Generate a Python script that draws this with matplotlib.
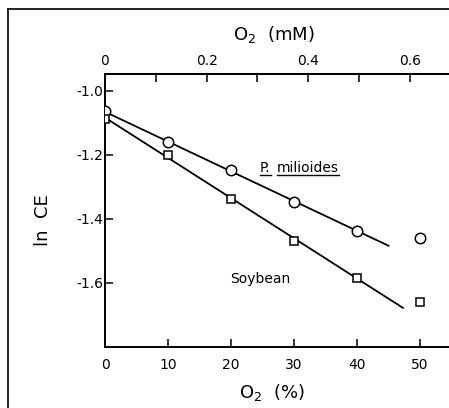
import matplotlib
matplotlib.use("Agg")
import matplotlib.pyplot as plt
from matplotlib.lines import Line2D

# O2 concentration (%), and ln CE
o2_pct = [0, 10, 20, 30, 40, 50]
milioides_lnce = [-1.063, -1.159, -1.247, -1.346, -1.439, -1.460]
soybean_lnce = [-1.088, -1.202, -1.337, -1.468, -1.585, -1.659]

# fitted lines (end points)
milioides_fit_x = [0, 45.0]
milioides_fit_y = [-1.066, -1.484]
soybean_fit_x = [0, 47.3]
soybean_fit_y = [-1.084, -1.678]

x_ticks = [0, 10, 20, 30, 40, 50]
y_ticks = [-1.0, -1.2, -1.4, -1.6]
y_ticklabels = ["-1.0", "-1.2", "-1.4", "-1.6"]
mm_ticks = [0, 0.1, 0.2, 0.3, 0.4, 0.5, 0.6]
mm_ticklabels = ["0", "", "0.2", "", "0.4", "", "0.6"]
mm_per_pct = 0.0124

plt.rcParams["font.family"] = "DejaVu Sans"

fig = plt.figure(figsize=(4.49, 4.08), dpi=100)
ax = fig.add_axes([105 / 449, 1 - 347 / 408, 1 - 105 / 449, (347 - 74) / 408])

ax.plot(milioides_fit_x, milioides_fit_y, color="k", lw=1.3, zorder=2)
ax.plot(soybean_fit_x, soybean_fit_y, color="k", lw=1.3, zorder=2)
ax.plot(o2_pct, milioides_lnce, ls="none", marker="o", ms=7.5,
        mfc="white", mec="k", mew=1.1, zorder=3)
ax.plot(o2_pct, soybean_lnce, ls="none", marker="s", ms=5.5,
        mfc="white", mec="k", mew=1.1, zorder=3)

ax.set_xlim(0, 54.6)
ax.set_ylim(-1.8, -0.948)
ax.set_xticks(x_ticks)
ax.set_xticklabels([str(v) for v in x_ticks])
ax.set_yticks(y_ticks)
ax.set_yticklabels(y_ticklabels)
ax.tick_params(axis="x", direction="in", length=6, width=1.1, labelsize=10, pad=8)
ax.tick_params(axis="y", direction="in", length=6, width=1.1, labelsize=10, pad=1.5)
ax.spines["right"].set_visible(False)
for s in ["left", "bottom", "top"]:
    ax.spines[s].set_linewidth(1.4)

secax = ax.secondary_xaxis("top", functions=(lambda p: p * mm_per_pct,
                                             lambda m: m / mm_per_pct))
secax.set_xticks(mm_ticks)
secax.set_xticklabels(mm_ticklabels)
secax.tick_params(direction="in", length=6, width=1.1, labelsize=10, pad=4)
secax.spines["top"].set_linewidth(1.4)

ax.set_xlabel("O$_2$  (%)", fontsize=13)
ax.xaxis.set_label_coords(0.485, -0.168)
ax.xaxis.label.set_verticalalignment("center")
ax.text(0.49, 1.145, "O$_2$  (mM)", fontsize=13, ha="center", va="center",
        transform=ax.transAxes)
ax.set_ylabel("ln  CE", fontsize=13)
ax.yaxis.set_label_coords(-0.180, 0.465)
ax.yaxis.label.set_verticalalignment("center")

# species labels, the first one underlined
t1 = ax.text(24.6, -1.255, "P.", fontsize=10, ha="left", va="baseline")
t2 = ax.text(27.3, -1.255, "milioides", fontsize=10, ha="left", va="baseline")
ax.text(19.8, -1.600, "Soybean", fontsize=10, ha="left", va="baseline")

fig.canvas.draw()
inv = ax.transData.inverted()
for t in (t1, t2):
    bb = t.get_window_extent()
    (x0, _), (x1, _) = inv.transform([(bb.x0, bb.y0), (bb.x1, bb.y0)])
    ax.plot([x0, x1], [-1.263, -1.263], color="k", lw=1.0)

# outer frame of the scanned figure
fig.add_artist(Line2D([8 / 449, 8 / 449], [0, 1 - 9 / 408], color="k", lw=1.2))
fig.add_artist(Line2D([8 / 449, 1], [1 - 9 / 408, 1 - 9 / 408], color="k", lw=1.2))

fig.savefig("out.png", dpi=100)
